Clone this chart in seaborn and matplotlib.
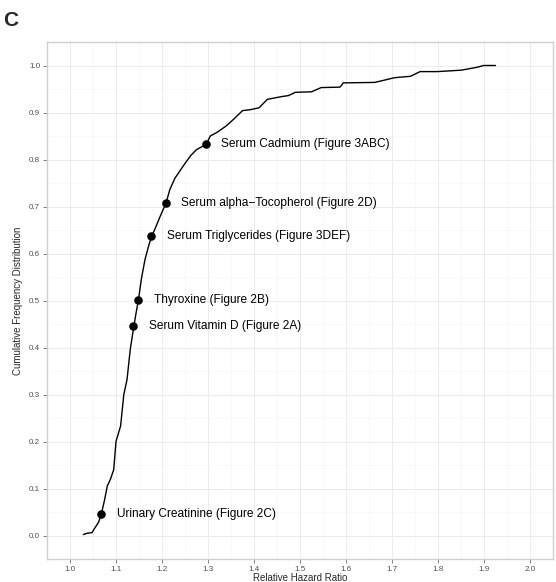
import matplotlib
matplotlib.use("Agg")
import matplotlib.pyplot as plt
import seaborn as sns
import pandas as pd
import numpy as np

# ---- data ----
hr = [1.029, 1.038, 1.048, 1.052, 1.062, 1.068, 1.075, 1.081, 1.088, 1.095,
      1.100, 1.110, 1.117, 1.124, 1.131, 1.138, 1.143, 1.149, 1.155, 1.163,
      1.172, 1.178, 1.188, 1.196, 1.209, 1.217, 1.228, 1.246, 1.262, 1.275,
      1.296, 1.305, 1.320, 1.339, 1.355, 1.375, 1.392, 1.411, 1.429, 1.461,
      1.475, 1.490, 1.525, 1.546, 1.587, 1.594, 1.662, 1.680, 1.705, 1.740,
      1.761, 1.798, 1.850, 1.884, 1.899, 1.925]
cdf = [0.002, 0.005, 0.006, 0.013, 0.028, 0.045, 0.075, 0.105, 0.120, 0.140,
       0.200, 0.233, 0.300, 0.332, 0.396, 0.440, 0.470, 0.502, 0.545, 0.587,
       0.620, 0.637, 0.660, 0.679, 0.708, 0.736, 0.760, 0.786, 0.808, 0.821,
       0.832, 0.850, 0.858, 0.871, 0.885, 0.904, 0.906, 0.910, 0.928, 0.934,
       0.936, 0.943, 0.944, 0.953, 0.954, 0.963, 0.964, 0.968, 0.974, 0.977,
       0.987, 0.987, 0.990, 0.996, 1.000, 1.000]

labels = ["Urinary Creatinine (Figure 2C)", "Serum Vitamin D (Figure 2A)",
          "Thyroxine (Figure 2B)", "Serum Triglycerides (Figure 3DEF)",
          "Serum alpha\u2212Tocopherol (Figure 2D)", "Serum Cadmium (Figure 3ABC)"]
label_hr = [1.068, 1.138, 1.148, 1.177, 1.208, 1.295]
label_cdf = [0.045, 0.445, 0.502, 0.637, 0.707, 0.832]

x_ticks = [1.0, 1.1, 1.2, 1.3, 1.4, 1.5, 1.6, 1.7, 1.8, 1.9, 2.0]
y_ticks = [0.0, 0.1, 0.2, 0.3, 0.4, 0.5, 0.6, 0.7, 0.8, 0.9, 1.0]

curve = pd.DataFrame({"hr": hr, "cdf": cdf})
marks = pd.DataFrame({"hr": label_hr, "cdf": label_cdf, "label": labels})

# ---- style ----
sns.set_style("white")
plt.rcParams["font.family"] = ["Liberation Sans", "DejaVu Sans"]

fig = plt.figure(figsize=(5.56, 5.82), dpi=100)
ax = fig.add_axes([47 / 556, 1 - 559 / 582, 506 / 556, 517 / 582])

sns.lineplot(data=curve, x="hr", y="cdf", ax=ax, color="black", lw=1.0,
             sort=False, estimator=None, zorder=3)
sns.scatterplot(data=marks, x="hr", y="cdf", ax=ax, color="black", s=38,
                edgecolor="black", linewidth=0, zorder=4)
for _, r in marks.iterrows():
    ax.text(r["hr"] + 0.034, r["cdf"], r["label"], fontsize=8.6,
            color="black", va="center", ha="left", zorder=5)

ax.set_xlim(0.95, 2.05)
ax.set_ylim(-0.05, 1.05)
ax.set_xticks(x_ticks)
ax.set_yticks(y_ticks)
ax.set_xticklabels([f"{v:.1f}" for v in x_ticks])
ax.set_yticklabels([f"{v:.1f}" for v in y_ticks])
ax.set_xticks(np.array(x_ticks[:-1]) + 0.05, minor=True)
ax.set_yticks(np.array(y_ticks[:-1]) + 0.05, minor=True)

ax.grid(True, which="major", color="#ebebeb", lw=0.7, zorder=0)
ax.grid(True, which="minor", color="#f5f5f5", lw=0.5, zorder=0)
ax.set_axisbelow(True)
for s in ax.spines.values():
    s.set_color("#cfcfcf")
    s.set_linewidth(1.0)

ax.tick_params(axis="both", which="major", length=3, width=0.7,
               color="#7f7f7f", labelsize=5.8, labelcolor="#4d4d4d", pad=2,
               bottom=True, left=True)
ax.tick_params(axis="both", which="minor", length=0)

ax.set_xlabel("Relative Hazard Ratio", fontsize=7, labelpad=0)
ax.set_ylabel("Cumulative Frequency Distribution", fontsize=7, labelpad=4)

fig.text(3 / 556, 1 - 21 / 582, "C", fontsize=15, fontweight="bold",
         va="center", ha="left")

fig.savefig("out.png", dpi=100)
